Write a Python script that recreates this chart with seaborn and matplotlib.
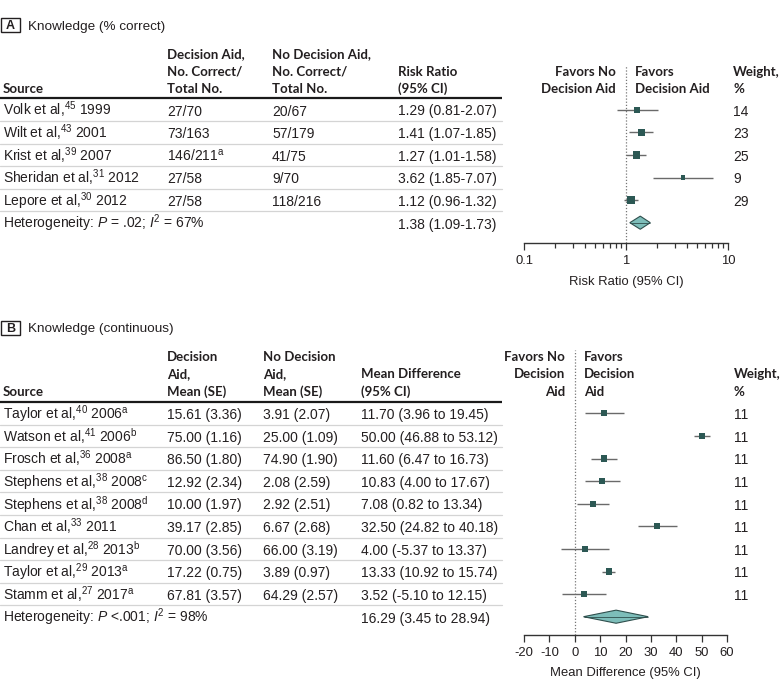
import numpy as np
import pandas as pd
import matplotlib
matplotlib.use("Agg")
import matplotlib.pyplot as plt
import seaborn as sns
from matplotlib.ticker import FixedLocator, LogLocator, NullFormatter
from matplotlib.patches import Rectangle, Polygon

# ---------------- data: panel A ----------------
a_source = ["Volk et al,$^{45}$ 1999", "Wilt et al,$^{43}$ 2001", "Krist et al,$^{39}$ 2007",
            "Sheridan et al,$^{31}$ 2012", "Lepore et al,$^{30}$ 2012"]
a_aid = ["27/70", "73/163", "146/211$^{\\mathrm{a}}$", "27/58", "27/58"]
a_noaid = ["20/67", "57/179", "41/75", "9/70", "118/216"]
a_rr = [1.29, 1.41, 1.27, 3.62, 1.12]
a_lo = [0.81, 1.07, 1.01, 1.85, 0.96]
a_hi = [2.07, 1.85, 1.58, 7.07, 1.32]
a_weight = [14, 23, 25, 9, 29]
a_pooled = [1.38, 1.09, 1.73]
a_het = "Heterogeneity: $P$ = .02; $I^{2}$ = 67%"
a_ticks = [0.1, 1, 10]
a_ticklabels = ["0.1", "1", "10"]

# ---------------- data: panel B ----------------
b_source = ["Taylor et al,$^{40}$ 2006$^{\\mathrm{a}}$", "Watson et al,$^{41}$ 2006$^{\\mathrm{b}}$",
            "Frosch et al,$^{36}$ 2008$^{\\mathrm{a}}$", "Stephens et al,$^{38}$ 2008$^{\\mathrm{c}}$",
            "Stephens et al,$^{38}$ 2008$^{\\mathrm{d}}$", "Chan et al,$^{33}$ 2011",
            "Landrey et al,$^{28}$ 2013$^{\\mathrm{b}}$", "Taylor et al,$^{29}$ 2013$^{\\mathrm{a}}$",
            "Stamm et al,$^{27}$ 2017$^{\\mathrm{a}}$"]
b_aid_mean = [15.61, 75.00, 86.50, 12.92, 10.00, 39.17, 70.00, 17.22, 67.81]
b_aid_se = [3.36, 1.16, 1.80, 2.34, 1.97, 2.85, 3.56, 0.75, 3.57]
b_no_mean = [3.91, 25.00, 74.90, 2.08, 2.92, 6.67, 66.00, 3.89, 64.29]
b_no_se = [2.07, 1.09, 1.90, 2.59, 2.51, 2.68, 3.19, 0.97, 2.57]
b_md = [11.70, 50.00, 11.60, 10.83, 7.08, 32.50, 4.00, 13.33, 3.52]
b_lo = [3.96, 46.88, 6.47, 4.00, 0.82, 24.82, -5.37, 10.92, -5.10]
b_hi = [19.45, 53.12, 16.73, 17.67, 13.34, 40.18, 13.37, 15.74, 12.15]
b_weight = [11, 11, 11, 11, 11, 11, 11, 11, 11]
b_pooled = [16.29, 3.45, 28.94]
b_het = "Heterogeneity: $P$ <.001; $I^{2}$ = 98%"
b_ticks = [-20, -10, 0, 10, 20, 30, 40, 50, 60]

# ---------------- style ----------------
sns.set_theme(style="white")
FONT = "Liberation Sans"
BOLD_FAMILY = ["Lato", "Liberation Sans", "DejaVu Sans"]
plt.rcParams["font.family"] = [FONT, "DejaVu Sans"]
plt.rcParams["mathtext.fontset"] = "custom"
plt.rcParams["mathtext.rm"] = FONT
plt.rcParams["mathtext.it"] = FONT + ":italic"
plt.rcParams["mathtext.bf"] = FONT + ":bold"
plt.rcParams["axes.unicode_minus"] = False

TXT = "#231f20"
SQ = "#2c5854"
CI = "#6a6a6a"
DIA_F = "#7dbdb9"
DIA_E = "#2f4f4d"
FS = 10.0      # body text
FSB = 9.5      # bold headers
FST = 9.7      # panel titles
FSX = 9.4      # axis ticks / labels

W, H = 780, 688
fig = plt.figure(figsize=(W / 100, H / 100), dpi=100)
ov = fig.add_axes([0, 0, 1, 1])
ov.set_xlim(0, W)
ov.set_ylim(H, 0)
ov.axis("off")


def t(x, y, s, ha="left", bold=False, size=None):
    if bold:
        ov.text(x, y, s, ha=ha, va="baseline", fontsize=size or FSB, color=TXT,
                fontweight="bold", family=BOLD_FAMILY)
    else:
        ov.text(x, y, s, ha=ha, va="baseline", fontsize=size or FS, color=TXT)


def panel_label(y0, letter, title):
    ov.add_patch(Rectangle((1, y0), 19, 14, fill=False, lw=1.0, ec=TXT))
    ov.text(10.5, y0 + 11.0, letter, ha="center", va="baseline", fontsize=9.0,
            fontweight="bold", color=TXT)
    t(28, y0 + 11.5, title, size=FST)


ROW = 22.6
BASE = 5.8


def table(cols, headers, head_base, row0, nrows, het_text, het_val, right=502):
    for x, lines, ha in headers:
        for k, line in enumerate(reversed(lines)):
            t(x, head_base - k * 17.5, line, ha=ha, bold=True)
    top = row0 - ROW / 2
    ov.plot([0, right], [top, top], color="#1a1a1a", lw=1.6, solid_capstyle="butt")
    for i in range(nrows):
        yb = row0 + i * ROW + BASE
        for x, vals in cols:
            t(x, yb, vals[i])
        sep = row0 + i * ROW + ROW / 2
        ov.plot([0, right], [sep, sep], color="#d4d4d4", lw=0.9)
    yb = row0 + nrows * ROW + BASE
    t(3, yb, het_text)
    t(cols[-1][0], yb, het_val)


def fmt_ci(est, lo, hi, sep):
    return [f"{e:.2f} ({l:.2f}{sep}{h:.2f})" for e, l, h in zip(est, lo, hi)]


# ---------- Panel A table ----------
panel_label(18.3, "A", "Knowledge (% correct)")
a_row0 = 109.7
table([(3, a_source), (167, a_aid), (272, a_noaid), (398, fmt_ci(a_rr, a_lo, a_hi, "-"))],
      [(3, ["Source"], "left"), (167, ["Decision Aid,", "No. Correct/", "Total No."], "left"),
       (272, ["No Decision Aid,", "No. Correct/", "Total No."], "left"),
       (398, ["Risk Ratio", "(95% CI)"], "left")],
      93, a_row0, len(a_source), a_het,
      f"{a_pooled[0]:.2f} ({a_pooled[1]:.2f}-{a_pooled[2]:.2f})")

t(616, 75.5, "Favors No", ha="right", bold=True)
t(616, 93, "Decision Aid", ha="right", bold=True)
t(635, 75.5, "Favors", bold=True)
t(635, 93, "Decision Aid", bold=True)
t(733, 75.5, "Weight,", bold=True)
t(733, 93, "%", bold=True)
for i, w in enumerate(a_weight):
    t(733, a_row0 + i * ROW + BASE, str(w))

# ---------- Panel B table ----------
panel_label(320.5, "B", "Knowledge (continuous)")
b_row0 = 413.3
b_aid_txt = [f"{m:.2f} ({s:.2f})" for m, s in zip(b_aid_mean, b_aid_se)]
b_no_txt = [f"{m:.2f} ({s:.2f})" for m, s in zip(b_no_mean, b_no_se)]
table([(3, b_source), (167, b_aid_txt), (263, b_no_txt), (361, fmt_ci(b_md, b_lo, b_hi, " to "))],
      [(3, ["Source"], "left"), (167, ["Decision", "Aid,", "Mean (SE)"], "left"),
       (263, ["No Decision", "Aid,", "Mean (SE)"], "left"),
       (361, ["Mean Difference", "(95% CI)"], "left")],
      396, b_row0, len(b_source), b_het,
      f"{b_pooled[0]:.2f} ({b_pooled[1]:.2f} to {b_pooled[2]:.2f})")

t(565, 361, "Favors No", ha="right", bold=True)
t(565, 378.5, "Decision", ha="right", bold=True)
t(565, 396, "Aid", ha="right", bold=True)
t(584, 361, "Favors", bold=True)
t(584, 378.5, "Decision", bold=True)
t(584, 396, "Aid", bold=True)
t(734, 378.5, "Weight,", bold=True)
t(734, 396, "%", bold=True)
for i, w in enumerate(b_weight):
    t(734, b_row0 + i * ROW + BASE, str(w))


# ---------- forest axes ----------
def forest_axes(left, right, top, bottom):
    ax = fig.add_axes([left / W, 1 - bottom / H, (right - left) / W, (bottom - top) / H])
    ax.set_facecolor("none")
    for s in ["top", "left", "right"]:
        ax.spines[s].set_visible(False)
    ax.spines["bottom"].set_color("#333333")
    ax.spines["bottom"].set_linewidth(1.0)
    ax.set_yticks([])
    ax.tick_params(axis="x", which="major", direction="out", length=5, width=0.9,
                   color="#333333", labelsize=FSX, labelcolor=TXT, pad=3.6, bottom=True)
    ax.tick_params(axis="x", which="minor", direction="out", length=3.4, width=0.9,
                   color="#333333", bottom=True)
    return ax


def draw_forest(ax, est, lo, hi, weight, pooled, sizes):
    n = len(est)
    df = pd.DataFrame({"est": est, "lo": lo, "hi": hi, "weight": weight, "row": np.arange(n)})
    ax.hlines(df["row"], df["lo"], df["hi"], color=CI, lw=1.0, zorder=2)
    if min(weight) == max(weight):
        sns.scatterplot(data=df, x="est", y="row", marker="s", s=sizes[1], color=SQ,
                        edgecolor="none", linewidth=0, legend=False, ax=ax, zorder=3)
    else:
        sns.scatterplot(data=df, x="est", y="row", marker="s", size="weight", sizes=sizes,
                        color=SQ, edgecolor="none", linewidth=0, legend=False, ax=ax, zorder=3)
    pe, pl, ph = pooled
    h = 0.29
    ax.add_patch(Polygon([(pl, n), (pe, n - h), (ph, n), (pe, n + h)], closed=True,
                         fc=DIA_F, ec=DIA_E, lw=0.8, zorder=3))
    ax.hlines([n], [pl], [ph], color=DIA_E, lw=0.6, zorder=4)
    ax.set_xlabel("")
    ax.set_ylabel("")


axA = forest_axes(524, 728, 65, 242.7)
axA.set_xscale("log")
axA.set_xlim(0.1, 10)
axA.axvline(1, color="#777777", lw=0.9, ls=(0, (1, 1.5)), zorder=1)
draw_forest(axA, a_rr, a_lo, a_hi, a_weight, a_pooled, (12, 32))
axA.set_ylim((242.7 - a_row0) / ROW, (65 - a_row0) / ROW)
axA.xaxis.set_major_locator(FixedLocator(a_ticks))
axA.set_xticklabels(a_ticklabels)
axA.xaxis.set_minor_locator(LogLocator(base=10, subs=np.arange(2, 10)))
axA.xaxis.set_minor_formatter(NullFormatter())
axA.set_xlabel("Risk Ratio (95% CI)", fontsize=FSX, color=TXT, labelpad=6.5)

axB = forest_axes(524, 727, 350, 635)
axB.set_xlim(-20, 60)
axB.axvline(0, color="#777777", lw=0.9, ls=(0, (1, 1.5)), zorder=1)
draw_forest(axB, b_md, b_lo, b_hi, b_weight, b_pooled, (19, 19))
axB.set_ylim((635 - b_row0) / ROW, (350 - b_row0) / ROW)
axB.xaxis.set_major_locator(FixedLocator(b_ticks))
axB.set_xticklabels([str(v) for v in b_ticks])
axB.set_xlabel("Mean Difference (95% CI)", fontsize=FSX, color=TXT, labelpad=5.5)

fig.savefig("out.png", dpi=100, facecolor="white")
